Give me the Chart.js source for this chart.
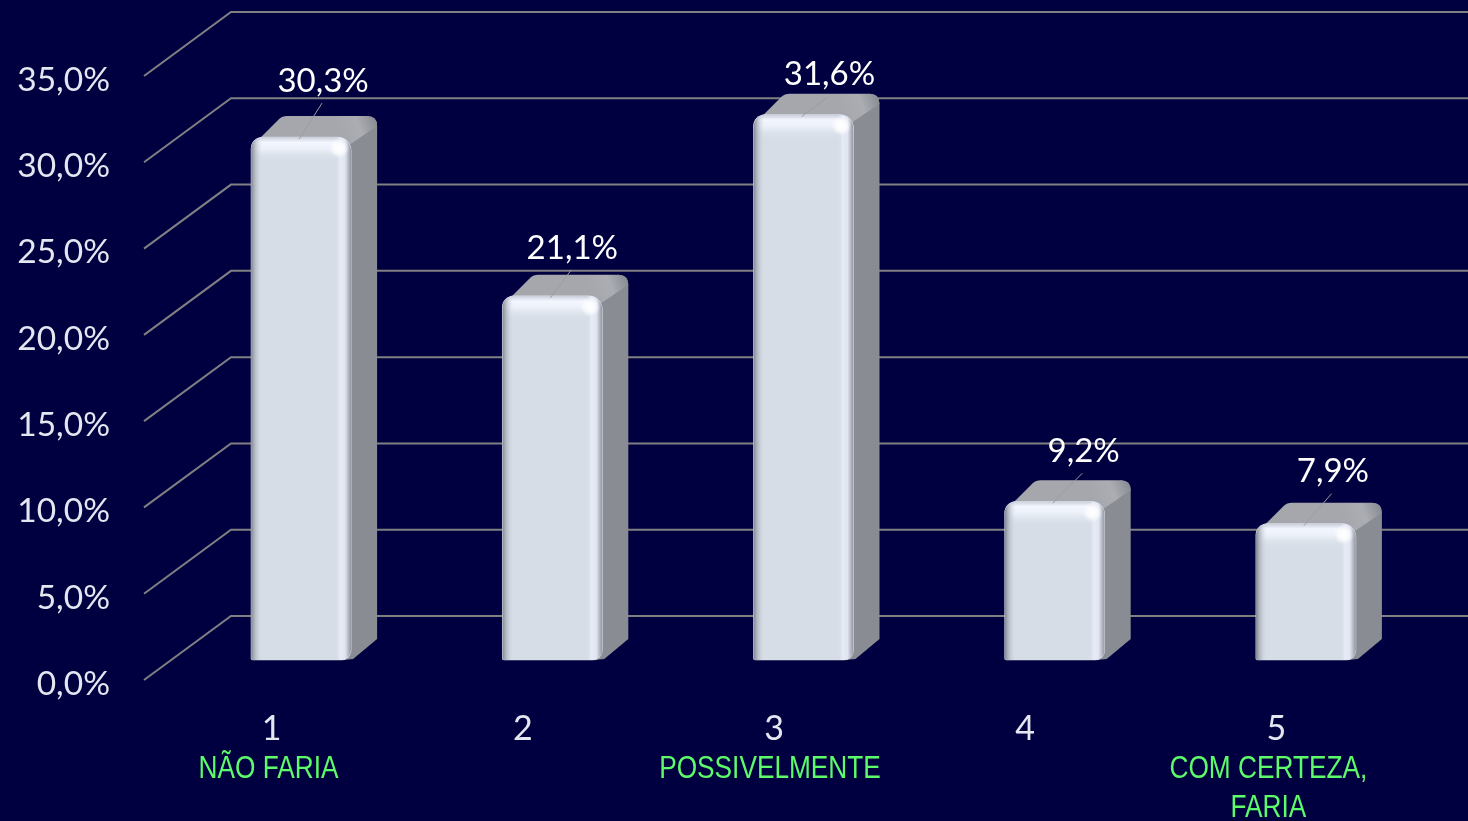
<!DOCTYPE html>
<html>
<head>
<meta charset="utf-8">
<style>
  html, body { margin: 0; padding: 0; background: #000040; overflow: hidden; }
  #wrap { width: 1468px; height: 821px; }
</style>
<script src="https://cdn.jsdelivr.net/npm/chart.js@4"></script>
</head>
<body>
<div id="wrap"><canvas id="chart"></canvas></div>
<script>
const categories = ['1', '2', '3', '4', '5'];
const answerLabels = ['NÃO FARIA', '', 'POSSIVELMENTE', '', ['COM CERTEZA,', 'FARIA']];
const percentValues = [30.3, 21.1, 31.6, 9.2, 7.9];
const yTicks = [0, 5, 10, 15, 20, 25, 30, 35];

// 3D look: the bars sit halfway in the floor, the grid runs back to the wall
const GRID_SHIFT = { dx: -2, dy: -4 };
const WALL = { dx: 87, dy: -64 };
const BAR_SHIFT = { dx: 29.5, dy: -24 };
const BAR_DEPTH = { dx: 26, dy: -21 };
// where each value label sits relative to the bar's top centre
const labelNudge = [[22, -56], [20, -48], [26, -40], [29, -50], [27, -52]];
const answerNudge = [-3, 0, -4, 0, -8];

const fmt = v => v.toFixed(1).replace('.', ',') + '%';

function drawGrid(chart) {
  const { ctx, scales } = chart;
  const left = chart.chartArea.left + GRID_SHIFT.dx;
  ctx.save();
  ctx.strokeStyle = '#807f82';
  ctx.lineWidth = 2;
  yTicks.forEach(t => {
    const y = scales.y.getPixelForValue(t) + GRID_SHIFT.dy;
    ctx.beginPath();
    ctx.moveTo(left, y);
    ctx.lineTo(left + WALL.dx, y + WALL.dy);
    ctx.lineTo(chart.width, y + WALL.dy);
    ctx.stroke();
  });
  ctx.restore();
}

function drawBarBody(ctx, bar) {
  const L = bar.x - bar.width / 2, R = bar.x + bar.width / 2, T = bar.y, B = bar.base;
  const dx = BAR_DEPTH.dx, dy = BAR_DEPTH.dy;

  // side
  ctx.fillStyle = '#8a8c94';
  ctx.beginPath();
  ctx.moveTo(R - 8, T);
  ctx.lineTo(R + dx - 10, T + dy);
  ctx.quadraticCurveTo(R + dx, T + dy, R + dx, T + dy + 10);
  ctx.lineTo(R + dx, B + dy);
  ctx.lineTo(R + 2, B - 1);
  ctx.lineTo(R - 8, B);
  ctx.closePath();
  ctx.fill();

  // top
  const g = ctx.createLinearGradient(R - 10, T + dy + 22, R + dx, T + dy + 8);
  g.addColorStop(0, '#a5a7ad');
  g.addColorStop(0.55, '#abadb3');
  g.addColorStop(1, '#8a8c94');
  ctx.fillStyle = g;
  ctx.beginPath();
  ctx.moveTo(L + 2, T + 8);
  ctx.lineTo(L + dx + 2, T + dy + 3);
  ctx.quadraticCurveTo(L + dx + 5, T + dy, L + dx + 10, T + dy);
  ctx.lineTo(R + dx - 10, T + dy);
  ctx.quadraticCurveTo(R + dx, T + dy, R + dx, T + dy + 10);
  ctx.lineTo(R - 2, T + 8);
  ctx.closePath();
  ctx.fill();
}

function drawBarBevel(ctx, bar) {
  const L = bar.x - bar.width / 2, T = bar.y, W = bar.width, H = bar.base - bar.y;
  ctx.save();
  ctx.beginPath();
  ctx.roundRect(L, T, W, H, [12, 14, 10, 2]);
  ctx.clip();

  const top = ctx.createLinearGradient(0, T, 0, T + 26);
  top.addColorStop(0, 'rgba(200,205,218,1)');
  top.addColorStop(0.2, 'rgba(243,246,254,1)');
  top.addColorStop(0.45, 'rgba(240,244,252,0.85)');
  top.addColorStop(1, 'rgba(214,221,230,0)');
  ctx.fillStyle = top;
  ctx.fillRect(L, T, W, 26);

  const side = ctx.createLinearGradient(L, 0, L + W, 0);
  side.addColorStop(0, 'rgba(125,128,138,0.95)');
  side.addColorStop(0.04, 'rgba(170,175,186,0.75)');
  side.addColorStop(0.11, 'rgba(214,221,230,0)');
  side.addColorStop(0.84, 'rgba(214,221,230,0)');
  side.addColorStop(0.89, 'rgba(230,235,247,1)');
  side.addColorStop(0.94, 'rgba(224,229,241,1)');
  side.addColorStop(1, 'rgba(145,148,158,1)');
  ctx.fillStyle = side;
  ctx.fillRect(L, T, W, H);

  const glint = ctx.createRadialGradient(L + W - 12, T + 11, 1, L + W - 12, T + 11, 10);
  glint.addColorStop(0, 'rgba(255,255,255,1)');
  glint.addColorStop(0.45, 'rgba(255,255,255,0.8)');
  glint.addColorStop(1, 'rgba(255,255,255,0)');
  ctx.fillStyle = glint;
  ctx.fillRect(L + W - 24, T, 24, 24);
  ctx.restore();
}

function drawAnswers(chart) {
  const ctx = chart.ctx;
  const squeeze = 0.82;
  ctx.save();
  ctx.font = '32px "Liberation Sans"';
  ctx.fillStyle = '#5dfa6a';
  ctx.textAlign = 'center';
  ctx.textBaseline = 'middle';
  answerLabels.forEach((label, i) => {
    const lines = [].concat(label);
    const x = chart.scales.x.getPixelForValue(i) + answerNudge[i];
    lines.forEach((line, n) => {
      ctx.save();
      ctx.translate(x, 769 + n * 39);
      ctx.scale(squeeze, 1);
      ctx.fillText(line, 0, 0);
      ctx.restore();
    });
  });
  ctx.restore();
}

const barLook = {
  id: 'barLook',
  beforeDatasetsDraw(chart) {
    const ctx = chart.ctx;
    drawGrid(chart);
    ctx.save();
    ctx.translate(BAR_SHIFT.dx, BAR_SHIFT.dy);
    chart.getDatasetMeta(0).data.forEach(bar => drawBarBody(ctx, bar));
  },
  afterDatasetsDraw(chart) {
    const ctx = chart.ctx;
    const bars = chart.getDatasetMeta(0).data;
    bars.forEach(bar => drawBarBevel(ctx, bar));

    // leader lines and value labels
    bars.forEach((bar, i) => {
      const [nx, ny] = labelNudge[i];
      ctx.strokeStyle = '#9c9da3';
      ctx.lineWidth = 1;
      ctx.beginPath();
      ctx.moveTo(bar.x - 2, bar.y + 2);
      ctx.lineTo(bar.x + nx * 0.95, bar.y + ny + 22);
      ctx.stroke();
    });
    ctx.font = '33px Lato';
    ctx.fillStyle = '#ffffff';
    ctx.textAlign = 'center';
    ctx.textBaseline = 'middle';
    bars.forEach((bar, i) => {
      const [nx, ny] = labelNudge[i];
      ctx.fillText(fmt(percentValues[i]), bar.x + nx, bar.y + ny);
    });
    ctx.restore();
    drawAnswers(chart);
  }
};

new Chart(document.getElementById('chart'), {
  type: 'bar',
  plugins: [barLook],
  data: {
    labels: categories,
    datasets: [{
      data: percentValues,
      backgroundColor: '#d6dde6',
      barThickness: 100,
      borderSkipped: false,
      borderRadius: { topLeft: 12, topRight: 14, bottomLeft: 2, bottomRight: 10 },
      clip: false
    }]
  },
  options: {
    responsive: true,
    maintainAspectRatio: false,
    animation: false,
    layout: { padding: { top: 80, right: 66, left: 0, bottom: 0 } },
    plugins: { legend: { display: false }, tooltip: { enabled: false } },
    scales: {
      y: {
        min: 0,
        max: 35,
        afterFit(s) { s.width = 146; },
        grid: { display: false },
        border: { display: false },
        ticks: {
          stepSize: 5,
          padding: 28,
          color: '#e4e6f0',
          font: { family: 'Lato', size: 33.5 },
          callback: v => fmt(v)
        }
      },
      x: {
        afterFit(s) { s.height = 137; },
        grid: { display: false },
        border: { display: false },
        ticks: {
          padding: 17,
          color: '#e4e6f0',
          font: { family: 'Lato', size: 34 },
          maxRotation: 0,
          autoSkip: false
        }
      }
    }
  }
});
</script>
</body>
</html>
